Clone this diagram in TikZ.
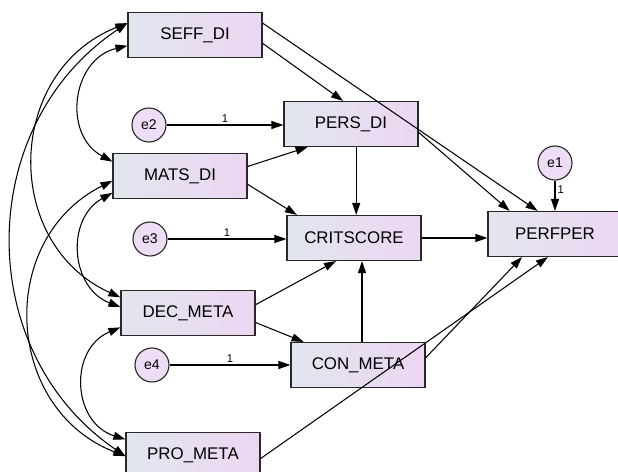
\documentclass[tikz,border=0pt]{standalone}
\usepackage{fontspec}
\setmainfont{Liberation Sans}
\usetikzlibrary{arrows.meta,calc}
\definecolor{boxleft}{RGB}{226,230,238}
\definecolor{boxright}{RGB}{236,214,242}
\definecolor{errfill}{RGB}{238,222,245}
\definecolor{edge}{RGB}{40,40,40}

\begin{document}
\begin{tikzpicture}[
  x=0.025cm, y=-0.025cm,
  obs/.style={rectangle, draw=edge, line width=0.8pt, left color=boxleft,
              right color=boxright, minimum width=3.35cm, minimum height=1.125cm,
              inner sep=0pt, font=\fontsize{12}{14}\selectfont},
  err/.style={circle, draw=edge, line width=0.8pt, fill=errfill,
              minimum size=0.85cm, inner sep=0pt, font=\fontsize{10}{12}\selectfont},
  regr/.style={-{Triangle[length=3mm,width=2mm]}, line width=0.75pt},
  covar/.style={{Triangle[length=3mm,width=2mm]}-{Triangle[length=3mm,width=2mm]},
                line width=0.75pt},
  wt/.style={font=\fontsize{8}{9}\selectfont, inner sep=1.5pt}
]
\useasboundingbox (0,0) rectangle (618,472);
\node[obs] (SEFF) at (195,35)  {SEFF\_DI};
\node[obs] (PERS) at (351,124) {PERS\_DI};
\node[obs] (MATS) at (180,176) {MATS\_DI};
\node[obs] (CRIT) at (354,238) {CRITSCORE};
\node[obs] (PERF) at (555,234) {PERFPER};
\node[obs] (DEC)  at (188,313) {DEC\_META};
\node[obs] (CON)  at (358,365) {CON\_META};
\node[obs] (PRO)  at (193,455) {PRO\_META};
\node[err] (e1) at (555,163) {e1};
\node[err] (e2) at (149,125) {e2};
\node[err] (e3) at (150,239) {e3};
\node[err] (e4) at (152,365) {e4};
\draw[regr] (SEFF.353) -- (PERS.109);
\draw[regr] (SEFF.10)  -- (PERF.127);
\draw[regr] (PERS.353) -- (PERF.153);
\draw[regr] (MATS.8)   -- (PERS.208);
\draw[regr] (MATS.353) -- (CRIT.158);
\draw[regr] ([xshift=0.13cm]PERS.south) -- ([xshift=0.13cm]PERS.south |- CRIT.north);
\draw[regr] ([xshift=0.1cm]CON.north)   -- ([xshift=0.1cm]CON.north |- CRIT.south);
\draw[regr] (CRIT.east)  -- (CRIT.east -| PERF.west);
\draw[regr] (DEC.7)    -- (CRIT.232);
\draw[regr] (DEC.352)  -- (CON.157);
\draw[regr] (CON.6)    -- (PERF.215);
\draw[regr] (PRO.357)  -- (PERF.253);
\draw[regr] (e2) -- node[wt, above]{1} (e2 -| PERS.west);
\draw[regr] (e3) -- node[wt, above]{1} (e3 -| CRIT.west);
\draw[regr] (e4) -- node[wt, above]{1} (e4 -| CON.west);
\draw[regr] (e1) -- node[wt, right, pos=0.3]{1} (PERF.north);
\draw[covar] (SEFF.189) to[bend right=69, looseness=1.25] (MATS.168);
\draw[covar] (SEFF.170) to[bend right=67, looseness=1.22] (DEC.167);
\draw[covar] (SEFF.170) to[bend right=56, looseness=1.09] (PRO.181);
\draw[covar] (MATS.194) to[bend right=65, looseness=1.2]  (DEC.175);
\draw[covar] (MATS.184) to[bend right=66, looseness=1.21] (PRO.181);
\draw[covar] (DEC.192)  to[bend right=70, looseness=1.28] (PRO.167);
\end{tikzpicture}
\end{document}
